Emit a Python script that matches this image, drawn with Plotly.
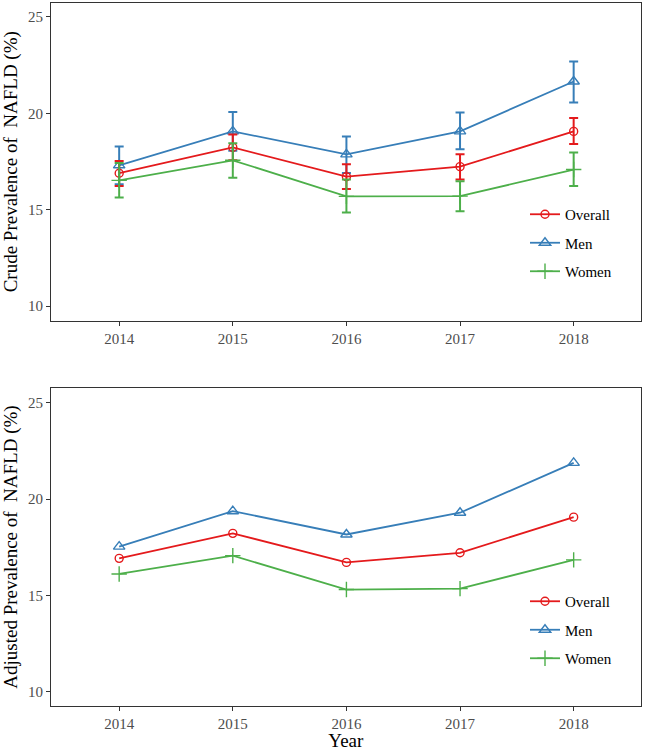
import plotly.graph_objects as go

years = [2014, 2015, 2016, 2017, 2018]
series_names = ["Overall", "Men", "Women"]

# Crude prevalence (%) with 95% CI
crude_overall = [16.89, 18.23, 16.71, 17.23, 19.06]
crude_overall_lo = [16.23, 17.56, 16.07, 16.57, 18.40]
crude_overall_hi = [17.52, 18.90, 17.35, 17.87, 19.75]

crude_men = [17.30, 19.06, 17.87, 19.06, 21.65]
crude_men_lo = [16.32, 18.06, 16.90, 18.13, 20.56]
crude_men_hi = [18.28, 20.06, 18.80, 20.04, 22.69]

crude_women = [16.52, 17.56, 15.69, 15.70, 17.08]
crude_women_lo = [15.63, 16.66, 14.85, 14.92, 16.23]
crude_women_hi = [17.42, 18.45, 16.56, 16.47, 17.97]

# Adjusted prevalence (%)
adj_overall = [16.92, 18.22, 16.71, 17.21, 19.06]
adj_men = [17.53, 19.37, 18.16, 19.29, 21.88]
adj_women = [16.11, 17.06, 15.30, 15.35, 16.84]

colors = {"Overall": "#E41A1C", "Men": "#377EB8", "Women": "#4DAF4A"}
symbols = {"Overall": "circle-open", "Men": "triangle-up-open", "Women": "cross-thin-open"}
sizes = {"Overall": 8, "Men": 10, "Women": 11}
ranks = {"Overall": 1, "Men": 2, "Women": 3}

FONT = "Liberation Serif"

crude = {
    "Overall": (crude_overall, crude_overall_lo, crude_overall_hi),
    "Men": (crude_men, crude_men_lo, crude_men_hi),
    "Women": (crude_women, crude_women_lo, crude_women_hi),
}
adjusted = {"Overall": adj_overall, "Men": adj_men, "Women": adj_women}

fig = go.Figure()

draw_order = ["Men", "Overall", "Women"]

for name in draw_order:
    v, lo, hi = crude[name]
    fig.add_trace(go.Scatter(
        x=years, y=v, name=name, mode="lines+markers",
        line=dict(color=colors[name], width=1.8),
        marker=dict(symbol=symbols[name], size=sizes[name], color=colors[name],
                    line=dict(color=colors[name], width=1.4)),
        error_y=dict(type="data", symmetric=False,
                     array=[h - m for h, m in zip(hi, v)],
                     arrayminus=[m - l for m, l in zip(v, lo)],
                     color=colors[name], thickness=2, width=4.5),
        xaxis="x", yaxis="y", legend="legend", legendrank=ranks[name],
        legendgroup="a" + name,
    ))

for name in draw_order:
    fig.add_trace(go.Scatter(
        x=years, y=adjusted[name], name=name, mode="lines+markers",
        line=dict(color=colors[name], width=1.8),
        marker=dict(symbol=symbols[name], size=sizes[name], color=colors[name],
                    line=dict(color=colors[name], width=1.4)),
        xaxis="x2", yaxis="y2", legend="legend2", legendrank=ranks[name],
        legendgroup="b" + name,
    ))

axis_common = dict(
    showline=True, mirror=True, linecolor="#333333", linewidth=1,
    ticks="outside", ticklen=4, tickwidth=1, tickcolor="#333333",
    tickfont=dict(family=FONT, size=15, color="#4D4D4D"),
    showgrid=False, zeroline=False, automargin=False,
)

xdom = [51 / 645, 640.7 / 645]
fig.update_layout(
    width=645, height=751,
    margin=dict(l=0, r=0, t=0, b=0, autoexpand=False),
    paper_bgcolor="white", plot_bgcolor="white",
    font=dict(family=FONT, color="black"),
    xaxis=dict(domain=xdom, range=[2013.4, 2018.59], tickvals=years,
               ticktext=[str(y) for y in years], anchor="y", **axis_common),
    yaxis=dict(domain=[1 - 320.5 / 751, 1 - 3 / 751], range=[9.25, 25.72],
               tickvals=[10, 15, 20, 25], anchor="x",
               title=dict(text="Crude Prevalence of\u00a0 NAFLD (%)",
                          font=dict(family=FONT, size=19, color="black"), standoff=5),
               **axis_common),
    xaxis2=dict(domain=xdom, range=[2013.4, 2018.59], tickvals=years,
                ticktext=[str(y) for y in years], anchor="y2",
                title=dict(text="Year", font=dict(family=FONT, size=19, color="black"), standoff=5),
                **axis_common),
    yaxis2=dict(domain=[1 - 705.7 / 751, 1 - 388.3 / 751], range=[9.27, 25.75],
                tickvals=[10, 15, 20, 25], anchor="x2",
                title=dict(text="Adjusted Prevalence of\u00a0 NAFLD (%)",
                           font=dict(family=FONT, size=19, color="black"), standoff=5),
                **axis_common),
    legend=dict(x=525 / 645, y=1 - 198 / 751, xanchor="left", yanchor="top",
                font=dict(family=FONT, size=15, color="black"),
                bgcolor="rgba(0,0,0,0)", tracegroupgap=6),
    legend2=dict(x=525 / 645, y=1 - 585 / 751, xanchor="left", yanchor="top",
                 font=dict(family=FONT, size=15, color="black"),
                 bgcolor="rgba(0,0,0,0)", tracegroupgap=6),
)

fig.write_html(
    "out.html",
    config={"displayModeBar": False},
    post_script="document.body.style.margin='0';document.body.style.padding='0';"
                "document.body.style.overflow='hidden';",
)
